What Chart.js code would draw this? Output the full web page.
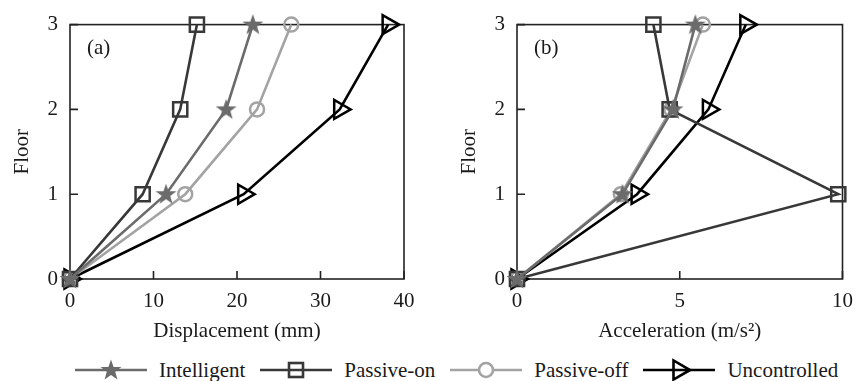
<!DOCTYPE html>
<html>
<head>
<meta charset="utf-8">
<script src="https://cdn.jsdelivr.net/npm/chart.js@4/dist/chart.umd.min.js"></script>
<style>
  body { margin: 0; background: #fff; }
  #wrap { position: relative; width: 863px; height: 381px; font-family: "Liberation Serif", serif; }
  #boxA { position: absolute; left: 0; top: 0; }
  #boxB { position: absolute; left: 431px; top: 0; }
  #legend { position: absolute; left: 75px; top: 358px; height: 24px; display: flex; align-items: center;
            font: 21px "Liberation Serif", serif; color: #1a1a1a; white-space: nowrap; }
  #legend span { margin-left: 12px; margin-right: 15px; }
</style>
</head>
<body>
<div id="wrap">
  <div id="boxA"><canvas id="chartA" width="431" height="345"></canvas></div>
  <div id="boxB"><canvas id="chartB" width="432" height="345"></canvas></div>
  <div id="legend"></div>
</div>
<script>
"use strict";

// floor levels (y axis)
const floors = [0, 1, 2, 3];

// (a) peak displacement, mm
const dispIntelligent = [0, 11.5, 18.7, 21.9];
const dispPassiveOn = [0, 8.7, 13.2, 15.2];
const dispPassiveOff = [0, 13.8, 22.4, 26.5];
const dispUncontrolled = [0, 20.8, 32.3, 38.1];

// (b) peak acceleration, m/s2
const accIntelligent = [0, 3.24, 4.79, 5.48];
const accPassiveOn = [0, 9.87, 4.69, 4.19];
const accPassiveOff = [0, 3.19, 4.74, 5.71];
const accUncontrolled = [0, 3.69, 5.88, 7.03];

const seriesNames = ["Intelligent", "Passive-on", "Passive-off", "Uncontrolled"];
const seriesColors = ["#6b6b6b", "#383838", "#a3a3a3", "#000000"];

const FONT = { family: "'Liberation Serif', serif", size: 21 };
const TEXT = "#1a1a1a";

function starImage(color) {
    const c = document.createElement("canvas");
    c.width = 24; c.height = 24;
    const g = c.getContext("2d");
    g.beginPath();
    for (let i = 0; i < 10; i++) {
        const r = i % 2 === 0 ? 11 : 4.4;
        const a = -Math.PI / 2 + i * Math.PI / 5;
        g.lineTo(12 + r * Math.cos(a), 12.5 + r * Math.sin(a));
    }
    g.closePath();
    g.fillStyle = color;
    g.fill();
    return c;
}

const star = starImage(seriesColors[0]);

function pts(xs) {
    return xs.map((v, i) => ({ x: v, y: floors[i] }));
}

function makeDatasets(ser) {
    return [
        {
            label: seriesNames[0], data: pts(ser[0]),
            borderColor: seriesColors[0], backgroundColor: seriesColors[0],
            pointStyle: star, pointRadius: 10
        },
        {
            label: seriesNames[1], data: pts(ser[1]),
            borderColor: seriesColors[1], backgroundColor: "rgba(0,0,0,0)",
            pointStyle: "rect", pointRadius: 10, pointBorderWidth: 2.5
        },
        {
            label: seriesNames[2], data: pts(ser[2]),
            borderColor: seriesColors[2], backgroundColor: "rgba(0,0,0,0)",
            pointStyle: "circle", pointRadius: 7, pointBorderWidth: 2.5
        },
        {
            label: seriesNames[3], data: pts(ser[3]),
            borderColor: seriesColors[3], backgroundColor: "rgba(0,0,0,0)",
            pointStyle: "triangle", pointRotation: 90, pointRadius: 11, pointBorderWidth: 2.5
        }
    ].map(d => Object.assign(d, { showLine: true, borderWidth: 2.6, clip: false, tension: 0 }));
}

// box, inner ticks and panel letter
const framePlugin = {
    id: "frame",
    beforeDatasetsDraw(chart, args, opts) {
        const { ctx, chartArea: a, scales } = chart;
        ctx.save();
        ctx.strokeStyle = "#222";
        ctx.lineWidth = 1.6;
        ctx.strokeRect(a.left, a.top, a.right - a.left, a.bottom - a.top);
        ctx.beginPath();
        scales.x.ticks.forEach(t => {
            const px = scales.x.getPixelForValue(t.value);
            ctx.moveTo(px, a.bottom); ctx.lineTo(px, a.bottom - 8);
        });
        scales.y.ticks.forEach(t => {
            const py = scales.y.getPixelForValue(t.value);
            ctx.moveTo(a.left, py); ctx.lineTo(a.left + 8, py);
        });
        ctx.stroke();
        ctx.fillStyle = TEXT;
        ctx.font = "21px 'Liberation Serif', serif";
        ctx.textBaseline = "middle";
        ctx.fillText(opts.label, a.left + 17, a.top + 24);
        ctx.restore();
    }
};

function makeChart(id, ser, xMax, xStep, xTitle, panel, pad) {
    return new Chart(document.getElementById(id), {
        type: "scatter",
        data: { datasets: makeDatasets(ser) },
        options: {
            responsive: false,
            animation: false,
            events: [],
            layout: { padding: pad },
            plugins: {
                legend: { display: false },
                tooltip: { enabled: false },
                frame: { label: panel }
            },
            scales: {
                x: {
                    type: "linear", min: 0, max: xMax,
                    ticks: { stepSize: xStep, color: TEXT, font: FONT, padding: 10 },
                    grid: { display: false, drawTicks: false },
                    border: { display: false },
                    title: { display: true, text: xTitle, color: TEXT, font: FONT, padding: { top: 0, bottom: 1 } },
                    afterFit(s) { s.height = 66; }
                },
                y: {
                    type: "linear", min: 0, max: 3,
                    ticks: { stepSize: 1, color: TEXT, font: FONT, padding: 12 },
                    grid: { display: false, drawTicks: false },
                    border: { display: false },
                    title: { display: true, text: "Floor", color: TEXT, font: FONT, padding: { top: 10, bottom: 0 } },
                    afterFit(s) { s.width = 70; }
                }
            }
        },
        plugins: [framePlugin]
    });
}

makeChart("chartA", [dispIntelligent, dispPassiveOn, dispPassiveOff, dispUncontrolled],
    40, 10, "Displacement (mm)", "(a)", { left: 0, right: 27, top: 24, bottom: 0 });
makeChart("chartB", [accIntelligent, accPassiveOn, accPassiveOff, accUncontrolled],
    10, 5, "Acceleration (m/s\u00B2)", "(b)", { left: 16, right: 10, top: 24, bottom: 0 });

// legend: line with marker in the middle, then the name
function legendIcon(i) {
    const c = document.createElement("canvas");
    c.width = 72; c.height = 24;
    const g = c.getContext("2d");
    const col = seriesColors[i];
    g.strokeStyle = col;
    g.lineWidth = 2.6;
    g.beginPath(); g.moveTo(0, 12); g.lineTo(72, 12); g.stroke();
    const cx = 36, cy = 12;
    if (i === 0) {
        g.drawImage(star, cx - 12, cy - 12);
    } else if (i === 1) {
        g.strokeRect(cx - 7, cy - 7, 14, 14);
    } else if (i === 2) {
        g.fillStyle = "#fff";
        g.beginPath(); g.arc(cx, cy, 7, 0, Math.PI * 2); g.fill(); g.stroke();
    } else {
        const r = 11;
        g.beginPath();
        for (let k = 0; k < 3; k++) {
            const a = Math.PI / 2 + k * 2 * Math.PI / 3;
            g.lineTo(cx + Math.sin(a) * r, cy - Math.cos(a) * r);
        }
        g.closePath(); g.stroke();
    }
    return c;
}

const legend = document.getElementById("legend");
seriesNames.forEach((name, i) => {
    legend.appendChild(legendIcon(i));
    const s = document.createElement("span");
    s.textContent = name;
    legend.appendChild(s);
});
</script>
</body>
</html>
